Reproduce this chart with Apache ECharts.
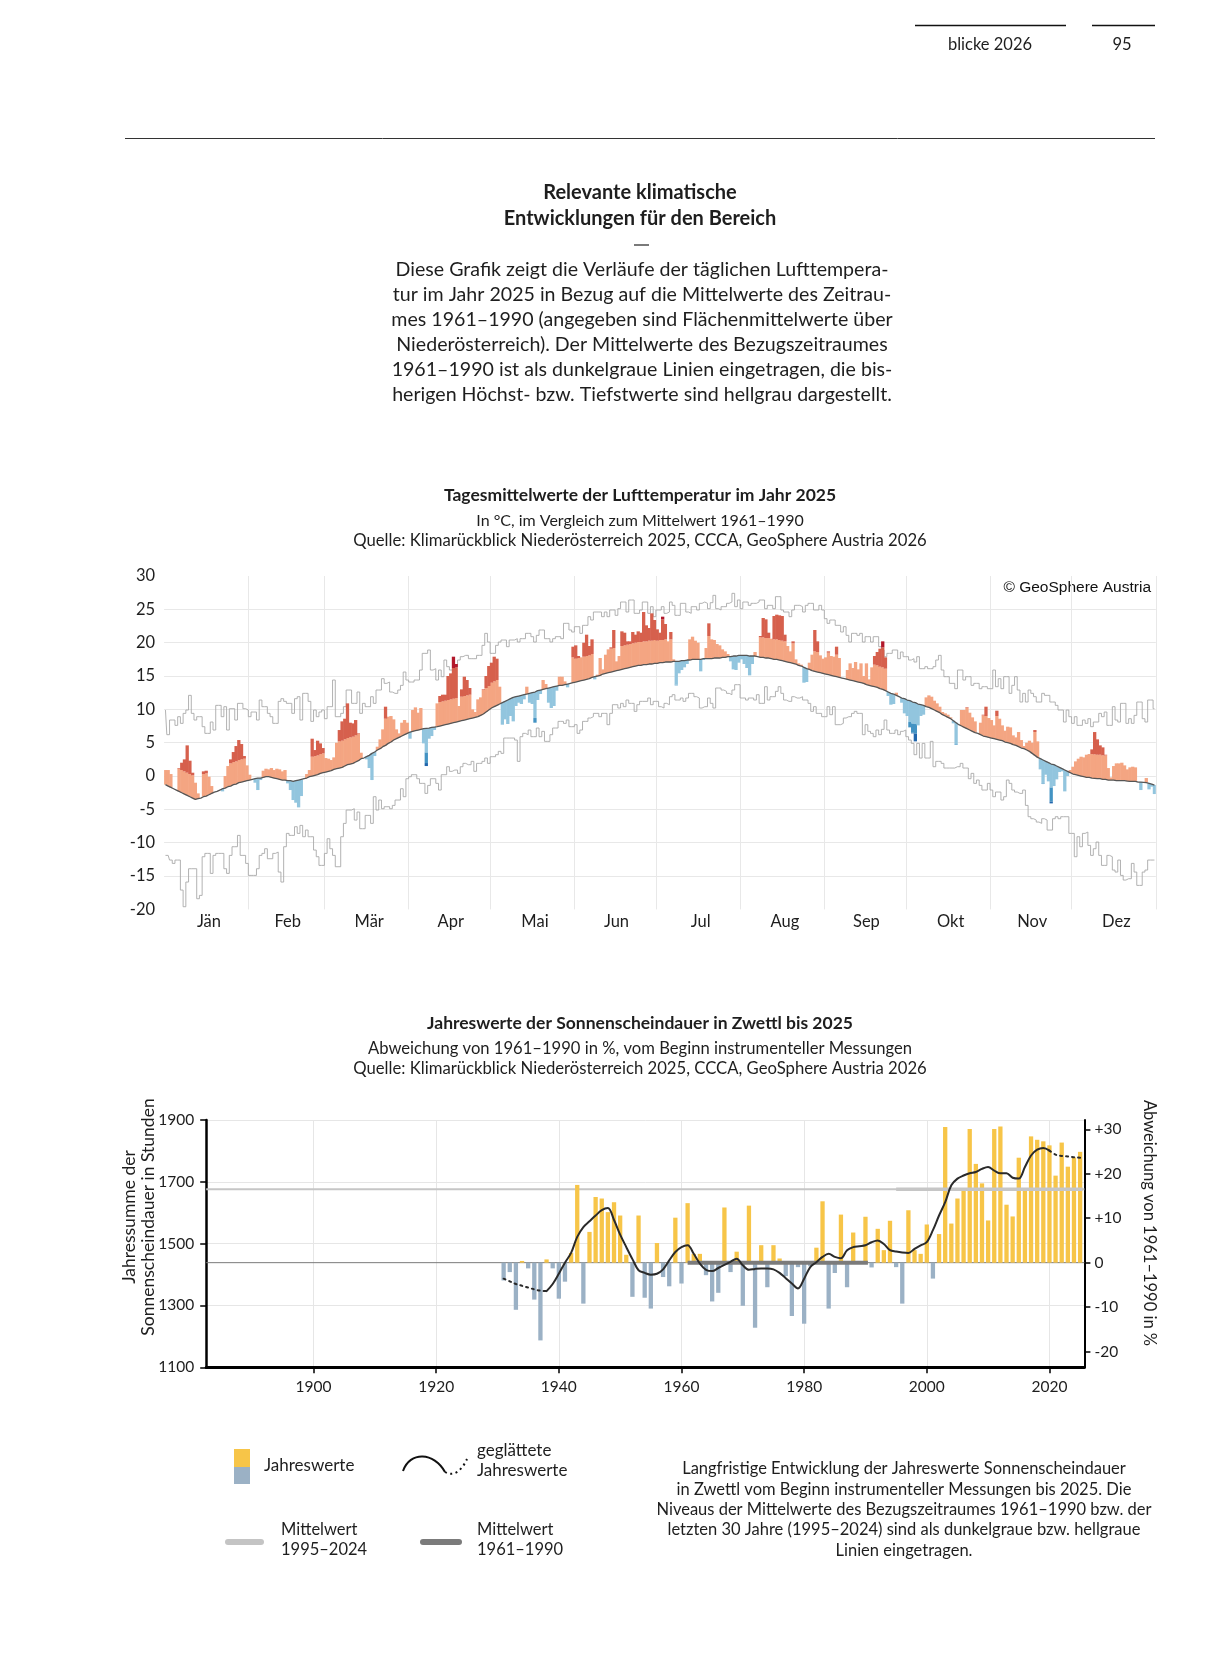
<!DOCTYPE html>
<html lang="de">
<head>
<meta charset="utf-8">
<title>Relevante klimatische Entwicklungen</title>
<script src="https://cdn.jsdelivr.net/npm/echarts@6/dist/echarts.min.js"></script>
<style>
html, body { margin: 0; padding: 0; background: #fff; }
#page { width: 1205px; height: 1657px; }
</style>
</head>
<body>
<div id="page"></div>
<script>
const FONT = 'Lato, "Noto Sans", sans-serif';
const INK = '#1e1e1e';

// ---- Tagesmittelwerte 2025 (°C), ein Wert pro Tag ----
const MONTH_NAMES = ['Jän', 'Feb', 'Mär', 'Apr', 'Mai', 'Jun', 'Jul', 'Aug', 'Sep', 'Okt', 'Nov', 'Dez'];
const MONTH_DAYS = [31, 28, 31, 30, 31, 30, 31, 31, 30, 31, 30, 31];

const t2025 = [].concat(
  [0.9, 0.9, 0.3, -1.9, -2.1, 1.2, 2.0, 2.5, 4.6, 2.3, 0.5, -1.0, -2.6, -3.3, 0.7, 0.8, -0.1, -1.5, -2.4, -2.3, -2.1, -2.3, 0.0, 1.5, 2.5, 3.6, 4.5, 5.4, 4.8, 3.0, 1.6],
  [0.2, -0.5, -1.0, -2.1, -0.6, 0.8, 1.1, 1.0, 1.2, 0.9, 1.1, 1.0, 0.7, 0.9, -1.1, -2.1, -3.6, -4.0, -4.7, -3.0, -0.4, 0.3, 0.9, 5.6, 3.9, 5.3, 4.9, 4.2],
  [2.7, 2.6, 2.4, 2.8, 5.0, 6.9, 8.2, 8.6, 10.9, 8.0, 7.9, 8.4, 6.4, 3.5, 2.7, 2.5, 1.2, -0.6, 3.0, 4.4, 5.5, 7.0, 10.4, 8.9, 9.0, 8.5, 7.0, 6.4, 8.0, 8.4, 8.0],
  [5.6, 9.9, 10.3, 9.5, 10.2, 4.9, 1.5, 5.6, 6.0, 6.9, 10.9, 12.0, 12.2, 12.2, 15.0, 15.4, 17.9, 16.8, 10.5, 13.0, 14.9, 14.4, 13.2, 10.0, 9.6, 11.5, 11.8, 13.0, 15.0, 16.5],
  [17.0, 17.9, 17.6, 13.4, 7.7, 8.5, 7.8, 9.0, 8.2, 10.5, 11.0, 10.8, 11.5, 13.4, 11.0, 10.8, 8.0, 11.4, 12.3, 14.4, 13.8, 11.0, 10.2, 10.5, 12.8, 14.9, 14.9, 14.2, 13.3, 13.9, 19.4],
  [19.6, 18.0, 17.8, 20.0, 21.2, 19.5, 20.5, 14.5, 15.2, 17.7, 16.0, 18.2, 19.0, 19.3, 21.9, 17.2, 18.0, 21.7, 21.5, 20.2, 20.2, 21.6, 21.2, 21.7, 21.5, 24.6, 22.6, 22.2, 24.4, 23.4],
  [22.0, 21.5, 23.9, 22.8, 20.2, 21.6, 17.5, 13.6, 15.4, 15.9, 16.3, 16.8, 20.5, 20.9, 20.3, 20.0, 15.7, 17.4, 19.2, 22.9, 20.5, 20.4, 19.8, 19.6, 19.0, 18.7, 18.3, 17.2, 16.0, 15.9, 17.0],
  [17.5, 16.8, 16.2, 15.1, 16.8, 18.6, 17.9, 21.0, 23.7, 23.5, 21.5, 20.6, 24.0, 24.2, 24.1, 24.0, 21.2, 19.5, 18.7, 20.2, 17.5, 16.9, 16.7, 14.0, 14.1, 17.0, 18.2, 21.9, 20.2, 18.1, 17.6],
  [17.8, 18.7, 18.0, 17.9, 19.4, 17.7, 14.7, 14.6, 15.9, 16.9, 16.2, 17.1, 16.0, 16.9, 15.0, 16.9, 14.5, 16.3, 18.0, 18.6, 19.1, 20.2, 17.8, 12.0, 10.7, 10.8, 12.5, 11.9, 11.0, 9.4],
  [9.0, 7.3, 6.4, 5.2, 7.6, 9.0, 9.2, 11.8, 12.1, 11.9, 11.3, 10.9, 10.4, 9.6, 9.4, 9.2, 8.8, 7.9, 4.7, 7.7, 9.9, 9.9, 10.3, 9.5, 8.8, 8.2, 6.4, 8.0, 9.2, 10.4, 8.7],
  [8.4, 7.6, 9.8, 8.6, 7.6, 6.8, 7.4, 7.3, 6.1, 5.8, 6.6, 5.4, 4.5, 5.0, 5.3, 5.0, 6.9, 5.2, 1.0, -1.2, 0.2, -0.8, -4.1, -1.5, -0.5, 0.6, 0.7, -2.3, 0.0, 0.9],
  [1.4, 2.2, 2.6, 2.9, 2.8, 3.2, 3.3, 4.0, 6.6, 5.5, 4.6, 4.3, 3.2, 1.2, -0.2, 1.5, 1.9, 1.9, 2.0, 1.6, 1.0, 1.3, 1.4, 1.3, -0.9, -2.1, -1.0, -0.3, -2.0, -1.6, -2.7]
);

// Mittelwert 1961–1990 (°C)
const tMean = [].concat(
  [-1.3, -1.5, -1.7, -1.9, -2.1, -2.3, -2.5, -2.7, -2.9, -3.1, -3.3, -3.5, -3.4, -3.3, -3.1, -3.0, -2.8, -2.6, -2.4, -2.3, -2.1, -1.9, -1.8, -1.6, -1.5, -1.3, -1.2, -1.0, -0.9, -0.8, -0.7],
  [-0.6, -0.5, -0.4, -0.3, -0.3, -0.2, -0.1, -0.1, -0.2, -0.3, -0.4, -0.5, -0.6, -0.6, -0.7, -0.7, -0.8, -0.7, -0.6, -0.5, -0.4, -0.3, -0.1, 0.0, 0.1, 0.2, 0.4, 0.5],
  [0.6, 0.7, 0.8, 1.0, 1.1, 1.2, 1.3, 1.5, 1.7, 1.8, 1.9, 2.1, 2.3, 2.6, 2.7, 2.9, 3.1, 3.4, 3.6, 3.9, 4.1, 4.4, 4.6, 4.9, 5.1, 5.4, 5.6, 5.8, 6.0, 6.2, 6.4],
  [6.6, 6.7, 6.8, 6.9, 7.0, 7.1, 7.15, 7.2, 7.3, 7.35, 7.4, 7.5, 7.6, 7.7, 7.8, 7.9, 8.0, 8.1, 8.2, 8.3, 8.4, 8.5, 8.6, 8.7, 8.8, 8.9, 9.1, 9.3, 9.6, 9.9],
  [10.2, 10.4, 10.6, 10.8, 11.0, 11.2, 11.4, 11.6, 11.8, 11.9, 12.0, 12.1, 12.2, 12.3, 12.4, 12.5, 12.6, 12.8, 12.9, 13.0, 13.1, 13.2, 13.3, 13.4, 13.5, 13.6, 13.6, 13.7, 13.8, 13.9, 14.0],
  [14.1, 14.2, 14.3, 14.4, 14.5, 14.6, 14.8, 14.9, 15.0, 15.1, 15.3, 15.4, 15.5, 15.6, 15.7, 15.8, 15.9, 16.0, 16.1, 16.2, 16.3, 16.4, 16.5, 16.6, 16.6, 16.7, 16.7, 16.8, 16.8, 16.9],
  [16.9, 17.0, 17.0, 17.1, 17.1, 17.1, 17.2, 17.2, 17.2, 17.3, 17.3, 17.4, 17.4, 17.5, 17.5, 17.5, 17.5, 17.6, 17.6, 17.6, 17.6, 17.7, 17.7, 17.7, 17.8, 17.8, 17.9, 17.9, 18.0, 18.0, 18.1],
  [18.1, 18.1, 18.1, 18.0, 18.0, 18.0, 17.9, 17.8, 17.8, 17.7, 17.7, 17.6, 17.5, 17.5, 17.4, 17.3, 17.2, 17.1, 17.0, 16.9, 16.8, 16.6, 16.5, 16.3, 16.1, 16.0, 15.8, 15.7, 15.6, 15.5, 15.4],
  [15.3, 15.2, 15.1, 15.0, 14.9, 14.8, 14.7, 14.6, 14.5, 14.4, 14.3, 14.2, 14.1, 14.0, 13.9, 13.7, 13.6, 13.5, 13.4, 13.3, 13.1, 13.0, 12.8, 12.6, 12.4, 12.3, 12.1, 11.9, 11.7, 11.6],
  [11.4, 11.3, 11.1, 11.0, 10.8, 10.7, 10.6, 10.4, 10.3, 10.1, 9.9, 9.7, 9.5, 9.2, 9.0, 8.8, 8.6, 8.3, 8.0, 7.7, 7.5, 7.3, 7.1, 6.9, 6.7, 6.5, 6.4, 6.2, 6.0, 5.9, 5.8],
  [5.7, 5.6, 5.5, 5.4, 5.3, 5.1, 5.0, 4.9, 4.7, 4.6, 4.4, 4.2, 4.1, 3.9, 3.7, 3.4, 3.1, 2.8, 2.6, 2.4, 2.2, 2.0, 1.8, 1.7, 1.5, 1.3, 1.1, 0.9, 0.7, 0.5],
  [0.3, 0.2, 0.1, 0.0, -0.1, -0.2, -0.2, -0.3, -0.35, -0.4, -0.4, -0.5, -0.5, -0.6, -0.6, -0.6, -0.7, -0.7, -0.7, -0.7, -0.75, -0.8, -0.8, -0.8, -0.9, -0.9, -0.95, -1.0, -1.1, -1.2, -1.35]
);

// bisherige Höchstwerte (°C)
const tMax = [].concat(
  [9.9, 6.2, 8.4, 8.4, 7.6, 8.9, 7.9, 9.4, 9.9, 12.1, 9.4, 8.4, 8.9, 8.9, 7.4, 6.4, 6.4, 8.1, 6.9, 10.6, 10.6, 8.9, 10.4, 6.9, 10.1, 10.1, 8.4, 10.9, 10.9, 10.1, 9.9],
  [8.9, 9.6, 9.6, 8.4, 11.4, 10.4, 10.4, 9.4, 8.9, 7.9, 7.9, 11.2, 11.6, 11.2, 10.9, 10.9, 9.4, 11.6, 11.9, 8.4, 12.4, 12.4, 11.2, 8.2, 9.9, 8.9, 9.6, 9.9],
  [8.6, 10.4, 10.4, 14.4, 8.9, 8.9, 9.4, 10.4, 12.9, 12.9, 10.9, 10.9, 12.6, 9.4, 10.9, 10.4, 10.4, 11.9, 10.9, 12.9, 12.9, 14.6, 13.9, 14.1, 12.6, 12.4, 12.4, 12.9, 13.6, 15.6, 14.4],
  [14.1, 14.1, 14.4, 14.4, 15.9, 18.4, 18.4, 18.9, 15.9, 16.1, 14.4, 15.9, 14.9, 17.4, 16.4, 15.9, 15.9, 16.4, 17.4, 17.9, 18.1, 18.1, 17.6, 17.6, 17.6, 18.1, 18.1, 19.6, 21.4, 20.1],
  [18.4, 18.4, 19.6, 20.1, 20.4, 20.4, 19.4, 20.4, 20.4, 20.6, 20.1, 20.6, 20.6, 21.4, 21.4, 20.9, 20.1, 21.1, 21.9, 21.9, 20.6, 20.6, 20.1, 20.6, 20.9, 20.9, 20.6, 22.9, 22.9, 21.9, 21.6],
  [22.4, 22.4, 21.4, 22.6, 22.6, 23.9, 23.4, 24.6, 24.6, 24.6, 23.9, 24.6, 23.9, 24.9, 24.9, 24.1, 25.1, 26.1, 26.1, 24.6, 26.4, 26.4, 24.4, 24.4, 24.9, 26.1, 26.1, 24.4, 25.4, 23.9],
  [24.9, 24.9, 25.4, 24.4, 24.6, 26.1, 25.6, 24.1, 24.1, 25.9, 25.9, 24.6, 24.4, 25.4, 25.4, 24.9, 25.9, 26.1, 25.9, 25.1, 26.0, 27.1, 25.1, 24.9, 25.4, 25.4, 25.9, 26.1, 27.4, 25.4, 26.4],
  [25.1, 26.1, 26.1, 25.6, 25.9, 25.9, 26.1, 26.4, 26.4, 25.1, 25.6, 25.6, 25.1, 26.9, 26.9, 24.9, 24.6, 24.6, 23.9, 24.9, 25.6, 25.6, 25.4, 24.6, 25.6, 25.9, 25.9, 24.9, 24.9, 25.6, 24.9],
  [23.6, 22.9, 23.4, 23.4, 22.6, 22.6, 21.6, 22.4, 21.1, 20.1, 21.4, 21.4, 21.1, 21.4, 20.1, 20.9, 20.9, 20.1, 20.9, 20.9, 19.4, 18.9, 17.9, 18.4, 18.4, 18.9, 18.9, 17.6, 18.6, 17.9],
  [17.9, 17.4, 17.6, 17.1, 17.9, 16.1, 16.1, 16.4, 16.1, 16.1, 16.4, 17.4, 18.1, 15.9, 14.9, 14.9, 13.9, 13.9, 13.1, 15.9, 15.9, 14.4, 14.9, 14.9, 13.6, 13.9, 13.9, 13.1, 13.4, 13.4, 13.1],
  [13.1, 15.9, 13.4, 14.6, 13.1, 14.9, 14.9, 12.4, 13.6, 14.9, 12.9, 11.1, 12.4, 11.1, 12.9, 12.4, 11.9, 11.1, 11.1, 12.4, 12.1, 12.1, 11.1, 11.1, 10.6, 9.9, 9.9, 8.1, 9.9, 8.9],
  [7.9, 8.9, 7.6, 7.6, 8.4, 7.9, 8.6, 7.4, 8.1, 8.1, 9.4, 8.9, 9.6, 7.6, 7.6, 10.4, 8.4, 8.1, 10.9, 10.9, 7.9, 8.6, 7.9, 9.1, 11.1, 11.1, 8.6, 8.1, 11.4, 11.4, 10.1]
);

// bisherige Tiefstwerte (°C)
const tMin = [].concat(
  [-11.9, -11.9, -12.6, -13.1, -12.6, -12.6, -17.1, -19.6, -15.9, -13.9, -13.9, -13.9, -18.4, -17.9, -12.1, -11.6, -11.6, -14.6, -11.9, -11.6, -11.6, -11.6, -13.9, -14.6, -11.9, -10.6, -10.6, -8.9, -11.9, -11.9, -13.1],
  [-14.9, -14.9, -14.9, -13.9, -11.9, -11.6, -10.9, -12.4, -12.4, -11.6, -11.4, -14.4, -15.9, -10.6, -8.6, -8.9, -8.9, -7.6, -8.6, -7.4, -9.1, -8.1, -9.1, -9.1, -11.1, -12.1, -13.4, -13.4],
  [-11.6, -9.4, -10.9, -11.9, -13.6, -13.6, -9.1, -7.1, -5.1, -5.1, -4.9, -6.6, -5.4, -7.9, -7.9, -5.9, -5.9, -7.1, -3.1, -5.1, -3.6, -4.9, -4.6, -4.6, -4.9, -4.4, -3.6, -3.6, -1.9, -3.1, -0.4],
  [-0.1, 0.2, 0.2, -0.4, -1.1, -1.1, -2.6, -1.4, -0.4, -0.4, -1.1, -2.1, 0.2, 0.2, 1.4, 0.7, 0.9, 0.9, 0.4, 1.4, 1.9, 1.7, 1.7, 2.2, 0.7, 1.9, 1.9, 2.2, 2.7, 1.9],
  [2.9, 2.9, 3.2, 3.7, 3.4, 5.7, 5.7, 5.7, 5.7, 5.4, 2.2, 5.9, 6.4, 6.2, 6.9, 5.9, 5.9, 7.2, 5.9, 6.7, 5.2, 5.2, 6.2, 7.2, 7.2, 8.2, 8.2, 7.9, 8.4, 7.4, 7.4],
  [7.7, 6.4, 6.9, 8.2, 8.2, 8.7, 8.9, 9.4, 9.4, 8.9, 9.4, 9.4, 7.7, 9.4, 10.7, 10.7, 10.2, 10.9, 10.4, 11.4, 10.9, 10.9, 9.7, 10.7, 11.2, 11.2, 11.2, 11.7, 10.7, 11.2],
  [11.2, 10.4, 10.2, 10.9, 10.7, 11.9, 12.2, 11.4, 11.4, 11.7, 11.2, 11.7, 12.4, 12.4, 11.9, 11.7, 10.2, 10.4, 10.4, 11.7, 10.9, 10.2, 13.2, 13.2, 12.9, 12.7, 12.4, 12.2, 12.9, 13.7, 13.7],
  [11.7, 11.7, 11.4, 11.7, 11.7, 11.4, 12.2, 10.9, 10.9, 13.4, 11.4, 11.9, 11.9, 12.7, 13.4, 12.4, 11.4, 11.2, 11.2, 11.9, 11.7, 11.7, 11.9, 11.4, 11.4, 10.9, 9.7, 10.4, 9.4, 9.4, 8.9],
  [8.9, 10.4, 9.2, 10.4, 7.7, 7.7, 7.9, 8.7, 8.9, 8.9, 9.4, 9.7, 9.4, 9.4, 6.2, 7.7, 6.7, 6.4, 5.9, 6.9, 6.2, 7.0, 8.4, 6.9, 6.4, 6.4, 6.9, 6.2, 6.7, 6.9],
  [5.9, 5.4, 4.9, 3.2, 4.9, 2.7, 4.9, 2.7, 2.7, 5.2, 1.4, 2.2, 2.2, 1.9, 1.2, 1.2, 1.2, 1.2, 1.4, 1.4, 1.9, 1.2, 1.2, -0.4, 0.4, -1.1, -0.6, -1.4, -2.1, -2.1, -1.1],
  [-2.1, -3.1, -2.4, -2.4, -3.6, -3.1, -0.6, -1.1, -2.1, -2.4, -2.6, -2.6, -2.1, -4.4, -6.1, -6.4, -6.6, -6.9, -7.1, -6.4, -6.6, -8.1, -8.1, -6.4, -6.1, -6.4, -6.1, -6.1, -6.1, -8.6],
  [-8.6, -12.1, -9.1, -10.6, -8.6, -8.4, -10.4, -11.9, -10.9, -9.9, -11.9, -13.4, -13.4, -11.9, -12.1, -14.1, -14.4, -12.6, -14.9, -15.6, -15.4, -15.4, -13.1, -14.4, -16.4, -16.4, -14.4, -14.1, -12.6, -12.6, -12.6]
);

// Farbstufen der Abweichung (°C über/unter dem Mittel), je Monat
const WARM_T1 = [3.4, 2.9, 4.0, 3.6, 3.8, 3.5, 3.4, 3.0, 3.3, 3.1, 3.5, 3.6];
const WARM_T2 = [8, 8, 9.5, 8.2, 8, 8.5, 6.5, 7, 6.3, 7, 7, 8];
const COLD_T1 = [3.5, 4.5, 4.5, 3.6, 3.9, 3.5, 3.5, 3.5, 3.2, 3.2, 3.5, 3.5];
const COLD_T2 = [5.5, 5.5, 5.5, 5.2, 5.5, 5.5, 5.5, 5.5, 4.6, 4.6, 5.6, 5.5];

// ---- Sonnenscheindauer Zwettl, Jahressummen in Stunden ----
const SUN_FIRST_YEAR = 1931;
const sunHours = [
  1381, 1408, 1286, 1444, 1420, 1319, 1187, 1449, 1420, 1322,
  1377, 1470, 1690, 1306, 1538, 1651, 1646, 1602, 1634, 1591,
  1464, 1328, 1591, 1325, 1290, 1502, 1392, 1362, 1584, 1371,
  1631, 1467, 1467, 1398, 1313, 1341, 1617, 1408, 1474, 1299,
  1623, 1228, 1495, 1359, 1495, 1452, 1395, 1266, 1424, 1241,
  1427, 1487, 1637, 1290, 1405, 1594, 1359, 1536, 1444, 1587,
  1423, 1548, 1479, 1574, 1424, 1306, 1608, 1479, 1467, 1562,
  1387, 1531, 1877, 1565, 1646, 1673, 1871, 1758, 1695, 1575,
  1871, 1879, 1626, 1588, 1778, 1673, 1847, 1836, 1831, 1818,
  1720, 1827, 1749, 1779, 1797
];
// geglättete Jahreswerte, Abweichung in %
const sunSmooth = [
  -3.6, -4.2, -4.8, -5.2, -5.6, -6.0, -6.3, -6.4, -4.8, -2.5,
  0.0, 2.2, 5.8, 8.0, 9.3, 10.6, 11.8, 12.3, 9.6, 6.3,
  3.5, 0.8, -1.7, -2.3, -2.7, -2.5, -1.5, 0.5, 2.4, 3.5,
  3.9, 2.0, -0.2, -1.6, -1.9, -1.2, -0.5, 0.2, 0.9, -0.6,
  -1.6, -1.4, -1.3, -1.3, -1.5, -2.3, -3.5, -4.7, -5.8, -3.6,
  -1.0, 0.1, 1.3, 2.0, 1.3, 1.0, 2.8, 3.5, 3.7, 3.9,
  4.6, 5.0, 4.2, 2.8, 2.5, 2.3, 2.2, 3.1, 3.9, 4.6,
  7.3, 10.6, 13.6, 17.4, 18.9, 19.6, 20.1, 20.4, 21.1, 21.5,
  20.7, 20.1, 20.1, 19.1, 18.9, 21.5, 24.1, 25.4, 25.8, 25.2,
  24.3, 24.0, 23.9, 23.7, 23.6
];
const MEAN_6190 = 1438.5;   // Mittel 1961–1990, Stunden
const MEAN_9524 = 1676;     // Mittel 1995–2024, Stunden
const SOLID_FROM = 1938, SOLID_TO = 2020;
const YEAR_TICKS = [1900, 1920, 1940, 1960, 1980, 2000, 2020];
const HOUR_TICKS = [1100, 1300, 1500, 1700, 1900];
const PCT_TICKS = [-20, -10, 0, 10, 20, 30];

// ---- Aufbereitung ----
const monthOf = [];
const monthStart = {};
const monthMid = {};
let acc = 0;
MONTH_DAYS.forEach(function (n, m) {
  for (let k = 0; k < n; k++) monthOf.push(m);
  if (acc > 0) monthStart[acc] = true;
  monthMid[acc + Math.ceil(n / 2)] = MONTH_NAMES[m];
  acc += n;
});
const days = t2025.map(function (v, i) { return String(i + 1); });

const tiers = { base: [], coldDark: [], coldMid: [], coldLight: [], warmLight: [], warmMid: [], warmDark: [] };
t2025.forEach(function (v, i) {
  const m = tMean[i], mo = monthOf[i], a = v - m;
  tiers.base.push(Math.min(v, m));
  if (a >= 0) {
    tiers.coldDark.push(0); tiers.coldMid.push(0); tiers.coldLight.push(0);
    tiers.warmLight.push(Math.min(a, WARM_T1[mo]));
    tiers.warmMid.push(Math.max(0, Math.min(a, WARM_T2[mo]) - WARM_T1[mo]));
    tiers.warmDark.push(Math.max(0, a - WARM_T2[mo]));
  } else {
    const d = -a;
    tiers.coldDark.push(Math.max(0, d - COLD_T2[mo]));
    tiers.coldMid.push(Math.max(0, Math.min(d, COLD_T2[mo]) - COLD_T1[mo]));
    tiers.coldLight.push(Math.min(d, COLD_T1[mo]));
    tiers.warmLight.push(0); tiers.warmMid.push(0); tiers.warmDark.push(0);
  }
});
const TIER_COLORS = {
  base: 'rgba(0,0,0,0)', coldDark: '#2166ac', coldMid: '#4393c3', coldLight: '#92c5de',
  warmLight: '#f4a582', warmMid: '#d6604d', warmDark: '#b2182b'
};

const toPct = function (h) { return (h / MEAN_6190 - 1) * 100; };
const PCT_MIN = toPct(1100), PCT_MAX = toPct(1900);
const PCT_9524 = toPct(MEAN_9524);
const X_MIN = 1882.5, X_MAX = 2025.7;
const sunBars = sunHours.map(function (h, k) { return [SUN_FIRST_YEAR + k, toPct(h)]; });
const smoothPts = sunSmooth.map(function (p, k) { return [SUN_FIRST_YEAR + k, p]; });
const smoothHead = smoothPts.filter(function (d) { return d[0] <= SOLID_FROM; });
const smoothBody = smoothPts.filter(function (d) { return d[0] >= SOLID_FROM && d[0] <= SOLID_TO; });
const smoothTail = smoothPts.filter(function (d) { return d[0] >= SOLID_TO; });

// ---- Texte ----
function txt(x, y, text, size, o) {
  o = o || {};
  return {
    type: 'text', x: x, y: y, rotation: o.rot || 0, silent: true,
    style: {
      text: text, fill: o.color || INK,
      font: (o.weight || 'normal') + ' ' + size + 'px ' + (o.family || FONT),
      textAlign: o.align || 'center', textVerticalAlign: 'middle',
      align: o.align || 'center', verticalAlign: 'middle'
    }
  };
}
function hline(x1, x2, y, w, color, cap) {
  return { type: 'line', silent: true, shape: { x1: x1, y1: y, x2: x2, y2: y },
    style: { stroke: color, lineWidth: w, lineCap: cap || 'butt' } };
}

const paragraph = [
  'Diese Grafik zeigt die Verläufe der täglichen Lufttempera-',
  'tur im Jahr 2025 in Bezug auf die Mittelwerte des Zeitrau-',
  'mes 1961–1990 (angegeben sind Flächenmittelwerte über',
  'Niederösterreich). Der Mittelwerte des Bezugszeitraumes',
  '1961–1990 ist als dunkelgraue Linien eingetragen, die bis-',
  'herigen Höchst- bzw. Tiefstwerte sind hellgrau dargestellt.'
];
const note = [
  'Langfristige Entwicklung der Jahreswerte Sonnenscheindauer',
  'in Zwettl vom Beginn instrumenteller Messungen bis 2025. Die',
  'Niveaus der Mittelwerte des Bezugszeitraumes 1961–1990 bzw. der',
  'letzten 30 Jahre (1995–2024) sind als dunkelgraue bzw. hellgraue',
  'Linien eingetragen.'
];

const CX = 640;
const elements = [
  hline(915, 1066, 25.5, 1.6, '#111'),
  hline(1092, 1155, 25.5, 1.6, '#111'),
  txt(990, 45, 'blicke 2026', 16.5),
  txt(1122, 45, '95', 16.5),
  hline(125, 1155, 138.5, 1, '#333'),
  txt(CX, 193, 'Relevante klimatische', 20, { weight: 'bold' }),
  txt(CX, 219, 'Entwicklungen für den Bereich', 20, { weight: 'bold' }),
  hline(634, 649, 245, 1.2, '#222'),
  txt(CX, 495, 'Tagesmittelwerte der Lufttemperatur im Jahr 2025', 17.5, { weight: 'bold' }),
  txt(CX, 521, 'In °C, im Vergleich zum Mittelwert 1961–1990', 16),
  txt(CX, 541, 'Quelle: Klimarückblick Niederösterreich 2025, CCCA, GeoSphere Austria 2026', 16.7),
  txt(1151, 588, '© GeoSphere Austria', 15.5, { align: 'right', family: '"Liberation Sans", Arial, sans-serif', color: '#111' }),
  txt(CX, 1023, 'Jahreswerte der Sonnenscheindauer in Zwettl bis 2025', 17.5, { weight: 'bold' }),
  txt(CX, 1049, 'Abweichung von 1961–1990 in %, vom Beginn instrumenteller Messungen', 16.6),
  txt(CX, 1069, 'Quelle: Klimarückblick Niederösterreich 2025, CCCA, GeoSphere Austria 2026', 16.7),
  txt(129, 1217, 'Jahressumme der', 17.5, { rot: Math.PI / 2 }),
  txt(148, 1217, 'Sonnenscheindauer in Stunden', 17.5, { rot: Math.PI / 2 }),
  txt(1149, 1223, 'Abweichung von 1961–1990 in %', 16.5, { rot: -Math.PI / 2 }),
  // Legende
  { type: 'rect', silent: true, shape: { x: 234, y: 1449, width: 16, height: 18 }, style: { fill: '#f7c548' } },
  { type: 'rect', silent: true, shape: { x: 234, y: 1467, width: 16, height: 17 }, style: { fill: '#9bb1c5' } },
  txt(264, 1466, 'Jahreswerte', 17, { align: 'left' }),
  { type: 'bezierCurve', silent: true,
    shape: { x1: 403, y1: 1471, cpx1: 410, cpy1: 1451, cpx2: 434, cpy2: 1452, x2: 445, y2: 1472 },
    style: { stroke: '#111', lineWidth: 2, fill: null } },
  { type: 'bezierCurve', silent: true,
    shape: { x1: 445, y1: 1472, cpx1: 455, cpy1: 1478, cpx2: 463, cpy2: 1468, x2: 467, y2: 1459 },
    style: { stroke: '#111', lineWidth: 2, fill: null, lineDash: [2, 3.5] } },
  txt(477, 1451, 'geglättete', 17, { align: 'left' }),
  txt(477, 1471, 'Jahreswerte', 17, { align: 'left' }),
  hline(228, 261, 1542, 6, '#c4c4c4', 'round'),
  txt(281, 1530, 'Mittelwert', 16.5, { align: 'left' }),
  txt(281, 1550, '1995–2024', 16.5, { align: 'left' }),
  hline(423, 459, 1542, 6, '#7b7b7b', 'round'),
  txt(477, 1530, 'Mittelwert', 16.5, { align: 'left' }),
  txt(477, 1550, '1961–1990', 16.5, { align: 'left' })
];
paragraph.forEach(function (line, k) { elements.push(txt(642, 270 + k * 25, line, 19.6)); });
note.forEach(function (line, k) { elements.push(txt(904, 1469 + k * 20.3, line, 16.5)); });

// ---- Diagramm ----
const chart = echarts.init(document.getElementById('page'), null, { renderer: 'canvas' });

const tierSeries = Object.keys(TIER_COLORS).map(function (key) {
  return {
    name: key, type: 'bar', xAxisIndex: 0, yAxisIndex: 0,
    stack: 'anomalie', stackStrategy: 'all',
    barWidth: 3.3, barGap: '-100%',
    data: tiers[key], silent: true, z: 2,
    itemStyle: { color: TIER_COLORS[key], borderWidth: 0 }
  };
});

function refLine(data, width, color, z) {
  return { type: 'line', xAxisIndex: 1, yAxisIndex: 2, data: data, symbol: 'none', silent: true, z: z,
    lineStyle: { width: width, color: color, cap: 'butt' } };
}
function smoothLine(data, dotted) {
  return { type: 'line', xAxisIndex: 1, yAxisIndex: 2, data: data, symbol: 'none', smooth: 0.35, silent: true, z: 6,
    lineStyle: { width: 2, color: '#2a2a2a', type: dotted ? [2, 4] : 'solid', cap: 'round' } };
}

const label1 = { color: INK, fontSize: 16.5, fontFamily: FONT };
const label2 = { color: INK, fontSize: 15.5, fontFamily: FONT };

chart.setOption({
  animation: false,
  backgroundColor: '#fff',
  textStyle: { fontFamily: FONT },
  graphic: { elements: elements },
  grid: [
    { left: 164.1, top: 576, width: 991.7, height: 333.4, containLabel: false, outerBoundsMode: 'none' },
    { left: 206.2, top: 1120, width: 878.2, height: 247.3, containLabel: false, outerBoundsMode: 'none' }
  ],
  xAxis: [
    {
      type: 'category', gridIndex: 0, data: days, boundaryGap: true,
      axisLine: { show: false, onZero: false }, axisTick: { show: false },
      axisLabel: Object.assign({
        margin: 4,
        interval: function (index) { return monthMid[index] !== undefined; },
        formatter: function (value, index) { return monthMid[index] || ''; }
      }, label1),
      splitLine: {
        show: true,
        interval: function (index) { return monthStart[index] === true; },
        lineStyle: { color: '#e8e8e8', width: 1 }
      }
    },
    {
      type: 'value', gridIndex: 1, min: X_MIN, max: X_MAX,
      axisLine: { show: true, onZero: false, lineStyle: { color: '#000', width: 3 } },
      axisTick: { show: true, length: 6, customValues: YEAR_TICKS, lineStyle: { color: '#000', width: 1.5 } },
      axisLabel: Object.assign({ margin: 12, customValues: YEAR_TICKS, formatter: function (v) { return String(v); } }, label2),
      splitLine: { show: true, lineStyle: { color: '#e6e6e6', width: 1 } }
    }
  ],
  yAxis: [
    {
      type: 'value', gridIndex: 0, min: -20, max: 30, interval: 5,
      axisLine: { show: false }, axisTick: { show: false },
      axisLabel: Object.assign({ margin: 9 }, label1),
      splitLine: { show: true, showMinLine: false, showMaxLine: false, lineStyle: { color: '#e8e8e8', width: 1 } }
    },
    {
      type: 'value', gridIndex: 1, position: 'left', min: 1100, max: 1900,
      axisLine: { show: true, onZero: false, lineStyle: { color: '#000', width: 2.5 } },
      axisTick: { show: true, length: 6, customValues: HOUR_TICKS, lineStyle: { color: '#000', width: 1.5 } },
      axisLabel: Object.assign({ margin: 12, customValues: HOUR_TICKS, formatter: function (v) { return String(v); } }, label2),
      splitLine: { show: true, lineStyle: { color: '#e6e6e6', width: 1 } }
    },
    {
      type: 'value', gridIndex: 1, position: 'right', min: PCT_MIN, max: PCT_MAX,
      axisLine: { show: true, onZero: false, lineStyle: { color: '#000', width: 2 } },
      axisTick: { show: true, length: 6, customValues: PCT_TICKS, lineStyle: { color: '#000', width: 1.5 } },
      axisLabel: Object.assign({
        margin: 10, customValues: PCT_TICKS,
        formatter: function (v) { return v > 0 ? '+' + v : String(v); }
      }, label2),
      splitLine: { show: false }
    }
  ],
  series: [
    { type: 'line', xAxisIndex: 0, yAxisIndex: 0, data: tMax, step: 'middle', symbol: 'none', silent: true, z: 1,
      lineStyle: { width: 0.9, color: '#a9a9a9' } },
    { type: 'line', xAxisIndex: 0, yAxisIndex: 0, data: tMin, step: 'middle', symbol: 'none', silent: true, z: 1,
      lineStyle: { width: 0.9, color: '#a9a9a9' } }
  ].concat(tierSeries).concat([
    { type: 'line', xAxisIndex: 0, yAxisIndex: 0, data: tMean, symbol: 'none', silent: true, z: 4,
      lineStyle: { width: 1.3, color: '#555' } },
    refLine([[X_MIN, PCT_9524], [X_MAX, PCT_9524]], 2, '#c6c6c6', 1),
    refLine([[X_MIN, 0], [X_MAX, 0]], 1, '#7b7b7b', 1),
    {
      type: 'bar', xAxisIndex: 1, yAxisIndex: 2, data: sunBars, barWidth: 4.3, silent: true, z: 2,
      itemStyle: { color: function (p) { return p.value[1] >= 0 ? '#f7c548' : '#9bb1c5'; } }
    },
    refLine([[1961, 0], [1990.4, 0]], 4, '#7b7b7b', 3),
    refLine([[1995, PCT_9524], [2025.4, PCT_9524]], 3.5, '#c6c6c6', 3),
    smoothLine(smoothHead, true),
    smoothLine(smoothBody, false),
    smoothLine(smoothTail, true)
  ])
});
</script>
</body>
</html>
